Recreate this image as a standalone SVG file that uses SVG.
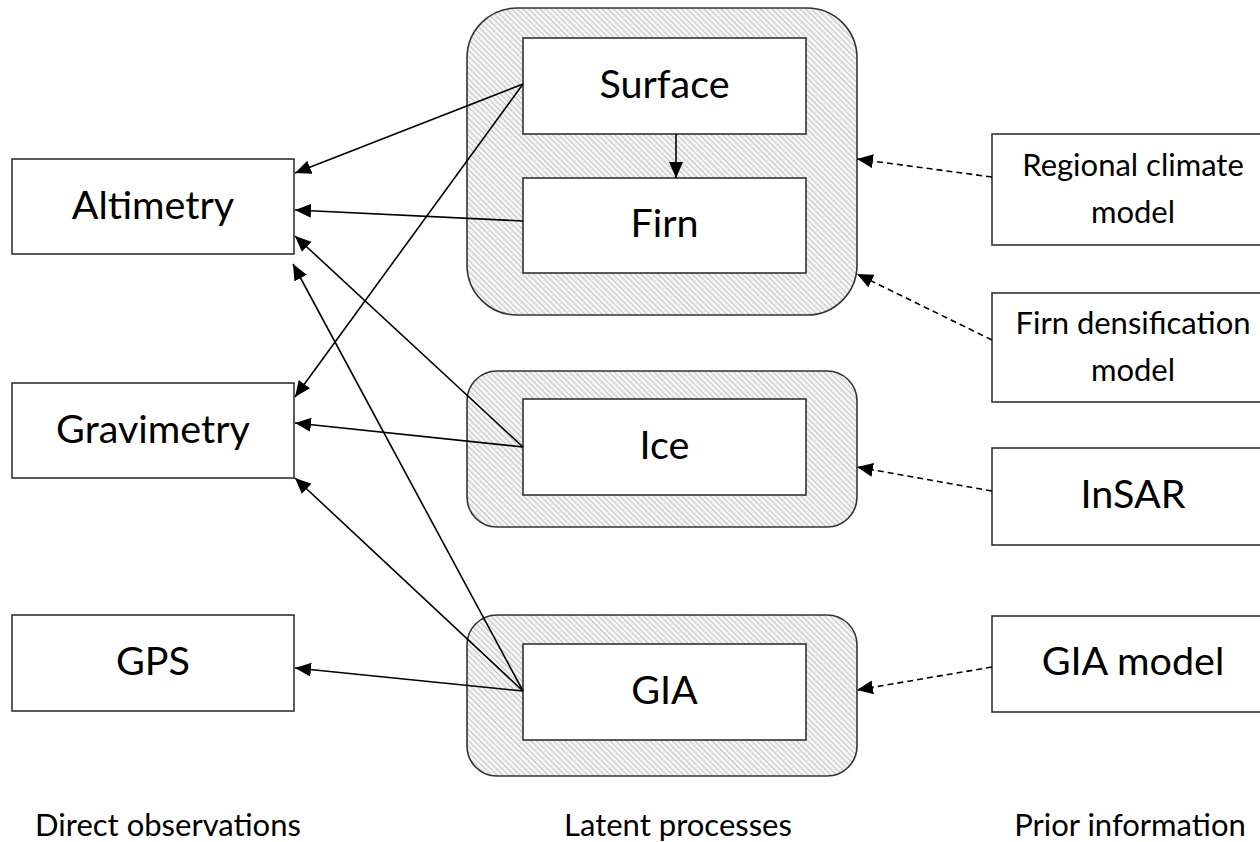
<svg xmlns="http://www.w3.org/2000/svg" width="1260" height="842" viewBox="0 0 1260 842">
  <defs>
    <pattern id="hatch" width="4" height="4" patternUnits="userSpaceOnUse" patternTransform="rotate(45)">
      <rect width="4" height="4" fill="#f4f4f4"/>
      <line x1="0" y1="0.5" x2="4" y2="0.5" stroke="#c4c4c4" stroke-width="1"/>
    </pattern>
    <marker id="arrow" markerUnits="userSpaceOnUse" markerWidth="17" markerHeight="15" refX="16" refY="7" orient="auto">
      <path d="M0,0 L16,7 L0,14 Z" fill="#000"/>
    </marker>
  </defs>
  <style>
    .box { fill: #fff; stroke: #333; stroke-width: 1.6; }
    .group { fill: url(#hatch); stroke: #333; stroke-width: 1.6; }
    .lbl { font-family: Lato, "Liberation Sans", sans-serif; font-size: 39.5px; fill: #000; text-anchor: middle; }
    .sm { font-size: 31px; }
    .cap { font-family: Lato, "Liberation Sans", sans-serif; font-size: 31px; fill: #000; text-anchor: middle; }
    .edge { stroke: #000; stroke-width: 1.6; fill: none; marker-end: url(#arrow); }
    .prior { stroke: #000; stroke-width: 1.6; fill: none; stroke-dasharray: 6 4; marker-end: url(#arrow); }
  </style>
  <rect width="1260" height="842" fill="#fff"/>

  <!-- latent process containers -->
  <g id="surface-firn-group">
    <rect class="group" x="467" y="8" width="390" height="307" rx="50" ry="50"/>
  </g>
  <g id="ice-group">
    <rect class="group" x="467" y="371" width="390" height="156" rx="30" ry="30"/>
  </g>
  <g id="gia-group">
    <rect class="group" x="467" y="615" width="390" height="161" rx="30" ry="30"/>
  </g>

  <!-- latent processes -->
  <g id="surface">
    <rect class="box" x="523" y="38" width="283" height="96"/>
    <text class="lbl" x="664.5" y="98">Surface</text>
  </g>
  <g id="firn">
    <rect class="box" x="523" y="178" width="283" height="95"/>
    <text class="lbl" x="664.5" y="237">Firn</text>
  </g>
  <g id="ice">
    <rect class="box" x="523" y="399" width="283" height="96"/>
    <text class="lbl" x="664.5" y="459">Ice</text>
  </g>
  <g id="gia">
    <rect class="box" x="523" y="644" width="283" height="96"/>
    <text class="lbl" x="664.5" y="704">GIA</text>
  </g>

  <!-- direct observations -->
  <g id="altimetry">
    <rect class="box" x="12" y="159" width="282" height="95"/>
    <text class="lbl" x="153" y="219">Altimetry</text>
  </g>
  <g id="gravimetry">
    <rect class="box" x="12" y="383" width="282" height="95"/>
    <text class="lbl" x="153" y="443">Gravimetry</text>
  </g>
  <g id="gps">
    <rect class="box" x="12" y="615" width="282" height="96"/>
    <text class="lbl" x="153" y="675">GPS</text>
  </g>

  <!-- prior information -->
  <g id="regional-climate-model">
    <rect class="box" x="992" y="134" width="284" height="111"/>
    <text class="lbl sm" x="1133" y="176">Regional climate</text>
    <text class="lbl sm" x="1133" y="223">model</text>
  </g>
  <g id="firn-densification-model">
    <rect class="box" x="992" y="293" width="284" height="109"/>
    <text class="lbl sm" x="1133" y="334">Firn densification</text>
    <text class="lbl sm" x="1133" y="381">model</text>
  </g>
  <g id="insar">
    <rect class="box" x="992" y="448" width="284" height="97"/>
    <text class="lbl" x="1133" y="508">InSAR</text>
  </g>
  <g id="gia-model">
    <rect class="box" x="992" y="616" width="284" height="96"/>
    <text class="lbl" x="1133" y="675">GIA model</text>
  </g>

  <!-- connectors -->
  <g id="connectors">
    <line class="edge" x1="676" y1="134" x2="676" y2="178"/>
    <line class="edge" x1="523" y1="84" x2="295" y2="173"/>
    <line class="edge" x1="523" y1="221" x2="295" y2="210"/>
    <line class="edge" x1="523" y1="447" x2="295" y2="236"/>
    <line class="edge" x1="523" y1="691" x2="293" y2="264"/>
    <line class="edge" x1="523" y1="84" x2="295" y2="397"/>
    <line class="edge" x1="523" y1="447" x2="295" y2="423"/>
    <line class="edge" x1="523" y1="691" x2="295" y2="478"/>
    <line class="edge" x1="523" y1="691" x2="295" y2="668"/>
    <line class="prior" x1="992" y1="177" x2="857" y2="159"/>
    <line class="prior" x1="992" y1="340" x2="857" y2="274"/>
    <line class="prior" x1="992" y1="491" x2="857" y2="467"/>
    <line class="prior" x1="992" y1="667" x2="857" y2="690"/>
  </g>

  <!-- column captions -->
  <g id="captions">
    <text class="cap" x="168" y="836">Direct observations</text>
    <text class="cap" x="678" y="836">Latent processes</text>
    <text class="cap" x="1130" y="836">Prior information</text>
  </g>
</svg>
